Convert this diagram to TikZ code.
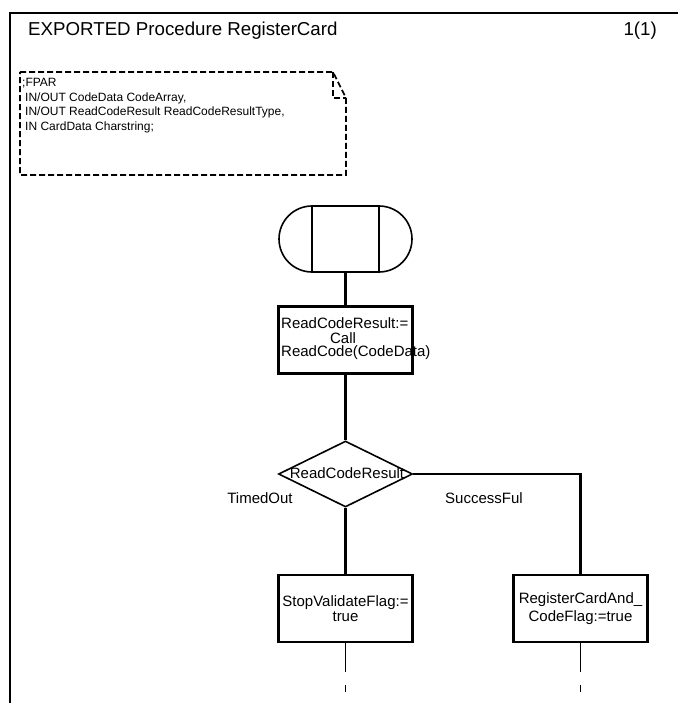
\documentclass[tikz,border=0pt]{standalone}
\usepackage{fontspec}
\setmainfont{Liberation Sans}
\usetikzlibrary{shapes.geometric}
\begin{document}
\begin{tikzpicture}[x=1pt,y=-1pt,
  flow/.style={line width=2.2pt},
  thinline/.style={line width=1pt},
  taskbox/.style={draw,line width=2.2pt,minimum width=134pt,minimum height=67pt,inner sep=0pt,align=center,font=\fontsize{15}{14.5}\selectfont},
  flowtext/.style={inner sep=0pt,font=\fontsize{15}{15}\selectfont},
  notetext/.style={inner sep=0pt,anchor=west,font=\fontsize{12}{12}\selectfont},
  notedash/.style={line width=1.6pt,dash pattern=on 6pt off 3pt}
]
\useasboundingbox (0,0) rectangle (678,703);
% frame
\draw[line width=2.4pt] (678,13) -- (10,13) -- (10,703);
\node[anchor=west,inner sep=0pt,font=\fontsize{18.7}{18.7}\selectfont] (title) at (28,31) {EXPORTED Procedure RegisterCard};
\node[anchor=east,inner sep=0pt,font=\fontsize{18.7}{18.7}\selectfont] (page) at (657,31) {1(1)};
% note
\draw[notedash] (20,72) -- (333,72) -- (346,98) -- (346,175) -- (20,175) -- cycle;
\draw[notedash] (333,72) -- (333,98) -- (346,98);
\node[notetext] (n1) at (22,83) {;FPAR};
\node[notetext] (n2) at (25,98) {IN/OUT CodeData CodeArray,};
\node[notetext] (n3) at (25,112.5) {IN/OUT ReadCodeResult ReadCodeResultType,};
\node[notetext] (n4) at (25,127) {IN CardData Charstring;};
% start
\draw[line width=1.6pt,rounded corners=33pt] (279,206) rectangle (412,272);
\node[draw,line width=1.6pt,minimum width=67pt,minimum height=66pt,inner sep=0pt] (start) at (345.5,239) {};
% call box
\node[taskbox] (call) at (345.5,340) {};
\node[flowtext,anchor=west] (c1) at (281,323) {ReadCodeResult:=};
\node[flowtext] (c2) at (343,338) {Call};
\node[flowtext,anchor=west] (c3) at (281,353) {ReadCode(CodeData)};
% decision
\node[draw,diamond,line width=1.6pt,minimum width=134pt,minimum height=66pt,inner sep=0pt] (dec) at (345.5,474) {};
\node[flowtext] (dectext) at (347,473) {ReadCodeResult};
\node[flowtext] (lto) at (260,498) {TimedOut};
\node[flowtext] (lsu) at (484,498) {SuccessFul};
% tasks
\node[taskbox] (stop) at (345.5,608.5) {StopValidateFlag:=\\true};
\node[taskbox] (reg) at (580.5,608.5) {RegisterCardAnd\_\\[3pt]CodeFlag:=true};
% connectors
\draw[flow] (start.south) -- (call.north);
\draw[flow] (call.south) -- (dec.north);
\draw[flow] (dec.south) -- (stop.north);
\draw[flow] (dec.east) -| (reg.north);
\coordinate (se) at (345.5,672);
\coordinate (t1a) at (345.5,685);
\coordinate (t1b) at (345.5,692);
\coordinate (re) at (580.5,672);
\coordinate (t2a) at (580.5,685);
\coordinate (t2b) at (580.5,692);
\draw[thinline] (stop.south) -- (se);
\draw[thinline] (t1a) -- (t1b);
\draw[thinline] (reg.south) -- (re);
\draw[thinline] (t2a) -- (t2b);
\end{tikzpicture}
\end{document}
